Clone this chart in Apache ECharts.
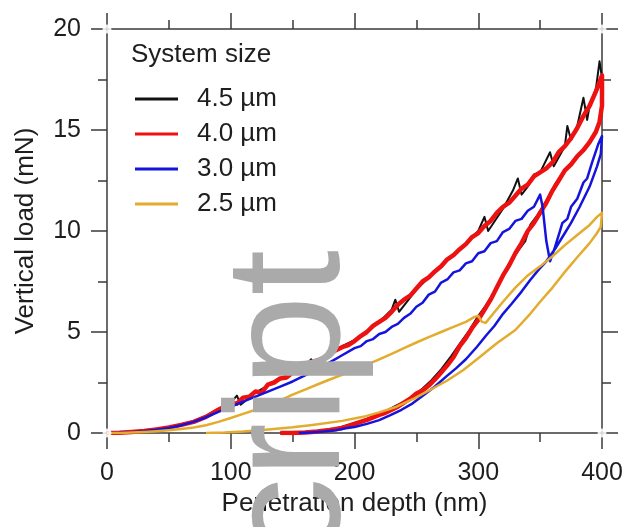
<!DOCTYPE html>
<html>
<head>
<meta charset="utf-8">
<script src="https://cdn.jsdelivr.net/npm/echarts@6/dist/echarts.min.js"></script>
<style>
  html, body { margin: 0; padding: 0; background: #fff; }
  #chart { width: 628px; height: 527px; }
</style>
</head>
<body>
<div id="chart"></div>
<script>
// penetration depth (nm), vertical load (mN)
const xTicks = [0, 100, 200, 300, 400]
const yTicks = [0, 5, 10, 15, 20]
const sizeNames = ['4.5 \u00b5m', '4.0 \u00b5m', '3.0 \u00b5m', '2.5 \u00b5m']

const black45Load = [[0, 0], [10, 0.01], [20, 0.05], [30, 0.1], [40, 0.18], [50, 0.28], [60, 0.42], [70, 0.58], [80, 0.85], [90, 1.2], [100, 1.5], [105, 1.85], [108, 1.4], [120, 2.0], [130, 2.35], [140, 2.7], [150, 3.0], [160, 3.3], [165, 3.65], [168, 3.3], [175, 3.7], [180, 4.0], [190, 4.3], [200, 4.6], [210, 5.0], [220, 5.5], [230, 6.1], [233, 6.6], [236, 6.0], [250, 7.1], [260, 7.7], [270, 8.3], [280, 8.85], [290, 9.4], [300, 10.0], [305, 10.7], [308, 10.0], [320, 11.1], [328, 12.0], [332, 12.6], [335, 11.8], [340, 12.2], [345, 12.8], [350, 12.9], [358, 13.9], [361, 13.2], [370, 14.2], [372, 15.2], [375, 14.5], [380, 15.2], [385, 16.6], [388, 15.5], [390, 16.2], [395, 17.0], [398, 18.4], [400, 17.6]]
const black45Unload = [[400, 16.0], [397, 15.2], [392, 14.6], [385, 14.0], [378, 13.5], [370, 13.0], [362, 12.3], [355, 11.5], [348, 10.8], [342, 10.3], [338, 9.5], [332, 9.0], [325, 8.4], [318, 7.6], [312, 6.9], [306, 6.3], [300, 5.8], [293, 5.1], [286, 4.5], [278, 3.8], [270, 3.15], [262, 2.6], [255, 2.2], [248, 1.85], [240, 1.55], [232, 1.3], [224, 1.05], [215, 0.8], [205, 0.6], [195, 0.4], [185, 0.22], [175, 0.12], [165, 0.05], [150, 0.01], [140, 0]]

const red40Load = [[0, 0], [10, 0.01], [20, 0.05], [30, 0.1], [40, 0.18], [50, 0.27], [60, 0.4], [70, 0.55], [80, 0.8], [90, 1.15], [95, 1.3], [100, 1.5], [105, 1.45], [110, 1.75], [115, 1.8], [120, 2.05], [125, 2.0], [130, 2.4], [135, 2.5], [140, 2.7], [145, 2.75], [150, 3.0], [155, 3.05], [160, 3.25], [165, 3.5], [170, 3.6], [175, 3.7], [180, 3.9], [185, 4.1], [190, 4.25], [195, 4.35], [200, 4.55], [205, 4.8], [210, 5.0], [215, 5.3], [220, 5.5], [225, 5.7], [230, 6.0], [235, 6.35], [240, 6.6], [245, 6.8], [250, 7.15], [255, 7.5], [260, 7.7], [265, 8.0], [270, 8.25], [275, 8.6], [280, 8.8], [285, 9.1], [290, 9.35], [295, 9.7], [300, 9.9], [305, 10.25], [310, 10.5], [315, 10.9], [320, 11.2], [325, 11.4], [330, 11.75], [335, 12.1], [340, 12.3], [345, 12.7], [350, 12.9], [355, 13.1], [360, 13.4], [365, 13.9], [370, 14.2], [375, 14.6], [380, 15.1], [385, 15.7], [390, 16.2], [395, 16.9], [400, 17.7]]
const red40Unload = [[400, 16.2], [398, 15.4], [395, 14.9], [390, 14.4], [385, 14.0], [380, 13.7], [375, 13.3], [370, 13.0], [365, 12.5], [360, 12.0], [355, 11.4], [350, 10.9], [345, 10.4], [340, 10.0], [335, 9.4], [330, 8.9], [325, 8.3], [320, 7.8], [315, 7.2], [310, 6.6], [305, 6.1], [300, 5.6], [295, 5.2], [290, 4.7], [285, 4.3], [280, 3.75], [275, 3.35], [270, 3.0], [265, 2.65], [260, 2.35], [255, 2.1], [250, 1.95], [245, 1.7], [240, 1.5], [235, 1.3], [230, 1.15], [225, 1.0], [220, 0.9], [210, 0.65], [200, 0.45], [190, 0.25], [180, 0.15], [170, 0.08], [160, 0.03], [150, 0], [140, 0]]

const blue30Load = [[0, 0], [10, 0.01], [20, 0.04], [30, 0.09], [40, 0.16], [50, 0.25], [60, 0.38], [70, 0.55], [80, 0.78], [90, 1.05], [100, 1.3], [110, 1.55], [120, 1.8], [130, 2.05], [140, 2.3], [150, 2.55], [160, 2.85], [170, 3.15], [180, 3.5], [190, 3.85], [200, 4.2], [205, 4.3], [210, 4.55], [215, 4.65], [220, 4.9], [225, 5.0], [230, 5.25], [235, 5.4], [240, 5.7], [245, 5.9], [250, 6.25], [255, 6.45], [260, 6.85], [265, 7.0], [270, 7.45], [275, 7.6], [280, 7.95], [285, 8.05], [290, 8.4], [295, 8.5], [300, 8.9], [305, 9.0], [310, 9.4], [315, 9.5], [320, 9.95], [325, 10.1], [330, 10.5], [335, 10.6], [340, 11.0], [345, 11.2], [350, 11.8], [352, 11.2], [355, 9.5], [358, 8.5], [362, 9.2], [365, 9.8], [368, 10.4], [372, 10.6], [375, 11.2], [380, 11.6], [385, 12.4], [388, 12.6], [392, 13.4], [397, 14.3], [400, 14.7]]
const blue30Unload = [[399, 13.8], [396, 13.2], [390, 12.2], [382, 11.2], [375, 10.4], [370, 9.9], [363, 9.2], [355, 8.5], [349, 8.1], [342, 7.57], [335, 7.0], [327, 6.4], [320, 5.9], [313, 5.3], [306, 4.8], [299, 4.27], [290, 3.65], [282, 3.2], [274, 2.79], [265, 2.3], [256, 1.88], [247, 1.47], [238, 1.15], [229, 0.88], [220, 0.64], [210, 0.45], [200, 0.3], [193, 0.23], [185, 0.14], [175, 0.07], [165, 0.03], [155, 0]]

const gold25Load = [[0, 0], [10, 0], [20, 0.02], [30, 0.05], [40, 0.09], [50, 0.14], [60, 0.2], [70, 0.27], [80, 0.38], [90, 0.55], [100, 0.74], [110, 0.95], [120, 1.15], [130, 1.38], [140, 1.62], [150, 1.9], [160, 2.15], [170, 2.4], [180, 2.65], [190, 2.88], [200, 3.1], [210, 3.38], [220, 3.65], [230, 3.92], [240, 4.2], [250, 4.48], [260, 4.75], [270, 5.0], [280, 5.25], [290, 5.5], [297, 5.75], [300, 5.8], [303, 5.5], [306, 5.45], [312, 5.9], [320, 6.5], [330, 7.2], [340, 7.8], [350, 8.25], [360, 8.75], [370, 9.3], [380, 9.8], [390, 10.3], [396, 10.7], [400, 10.9]]
const gold25Unload = [[399, 10.2], [396, 9.9], [390, 9.4], [380, 8.7], [369, 7.9], [360, 7.2], [350, 6.5], [342, 5.9], [330, 5.1], [315, 4.44], [300, 3.7], [288, 3.12], [275, 2.6], [261, 2.13], [248, 1.7], [234, 1.3], [220, 1.02], [207, 0.8], [190, 0.6], [166, 0.4], [150, 0.28], [126, 0.15], [110, 0.07], [95, 0.02], [80, 0]]

const cornerPoints = [[0, 0], [400, 0], [0, 20], [400, 20]]

const font = '"Liberation Sans", Arial, sans-serif'
const axisColor = '#3a3a3a'

const myChart = echarts.init(document.getElementById('chart'), null, { renderer: 'canvas' })

function frameAxis (pos, ticks, showLabel) {
  return {
    type: 'value',
    position: pos,
    min: ticks[0],
    max: ticks[ticks.length - 1],
    interval: ticks[1] - ticks[0],
    splitLine: { show: false },
    axisLine: { show: true, onZero: false, lineStyle: { color: axisColor, width: 1.5 } },
    axisTick: { show: true, inside: false, length: 16, lineStyle: { color: axisColor, width: 1.5 } },
    minorTick: { show: true, splitNumber: 2, length: 9, lineStyle: { color: axisColor, width: 1.5 } },
    axisLabel: { show: showLabel, color: '#1e1e1e', fontSize: 25, fontFamily: font }
  }
}

function curve (name, color, width, load, unload, z) {
  return {
    name: name,
    type: 'line',
    data: load.concat(unload),
    symbol: 'none',
    z: z,
    lineStyle: { color: color, width: width, join: 'round' },
    itemStyle: { color: color },
    animation: false
  }
}

const xBottom = frameAxis('bottom', xTicks, true)
xBottom.axisLabel.margin = 28
xBottom.name = 'Penetration depth (nm)'
xBottom.nameLocation = 'middle'
xBottom.nameGap = 55
xBottom.nameTextStyle = { color: '#1e1e1e', fontSize: 26, fontFamily: font }

const yLeft = frameAxis('left', yTicks, true)
yLeft.axisLabel.margin = 26
yLeft.name = 'Vertical load (mN)'
yLeft.nameLocation = 'middle'
yLeft.nameGap = 68
yLeft.nameTextStyle = { color: '#1e1e1e', fontSize: 26, fontFamily: font }

const option = {
  backgroundColor: '#fff',
  animation: false,
  title: {
    text: 'System size',
    left: 126,
    top: 37,
    textStyle: { color: '#1e1e1e', fontSize: 26, fontWeight: 'normal', fontFamily: font }
  },
  legend: {
    data: sizeNames,
    orient: 'vertical',
    left: 130,
    top: 81,
    icon: 'rect',
    itemWidth: 43,
    itemHeight: 3,
    itemGap: 9,
    textStyle: { color: '#1e1e1e', fontSize: 26, lineHeight: 26, fontFamily: font, padding: [0, 0, 0, 14] }
  },
  grid: { left: 107, right: 26, top: 29, bottom: 94, containLabel: false },
  xAxis: [xBottom, frameAxis('top', xTicks, false)],
  yAxis: [yLeft, frameAxis('right', yTicks, false)],
  graphic: [{
    type: 'text',
    x: 294,
    y: 250,
    rotation: Math.PI / 2,
    z: 100,
    silent: true,
    style: {
      text: 'script',
      fill: '#aaaaaa',
      font: '164px "Liberation Sans", Arial, sans-serif',
      textAlign: 'right',
      textVerticalAlign: 'middle'
    }
  }],
  series: [
    curve(sizeNames[0], '#111111', 2, black45Load, black45Unload, 2),
    curve(sizeNames[1], '#ee1111', 4.5, red40Load, red40Unload, 3),
    curve(sizeNames[2], '#1414dc', 2.5, blue30Load, blue30Unload, 4),
    curve(sizeNames[3], '#e3ac2e', 2.5, gold25Load, gold25Unload, 5),
    {
      type: 'scatter',
      data: cornerPoints,
      symbol: 'emptyCircle',
      symbolSize: 7,
      clip: false,
      silent: true,
      z: 10,
      itemStyle: { color: '#fff', borderColor: axisColor, borderWidth: 1.5 }
    }
  ]
}

myChart.setOption(option)
</script>
</body>
</html>
